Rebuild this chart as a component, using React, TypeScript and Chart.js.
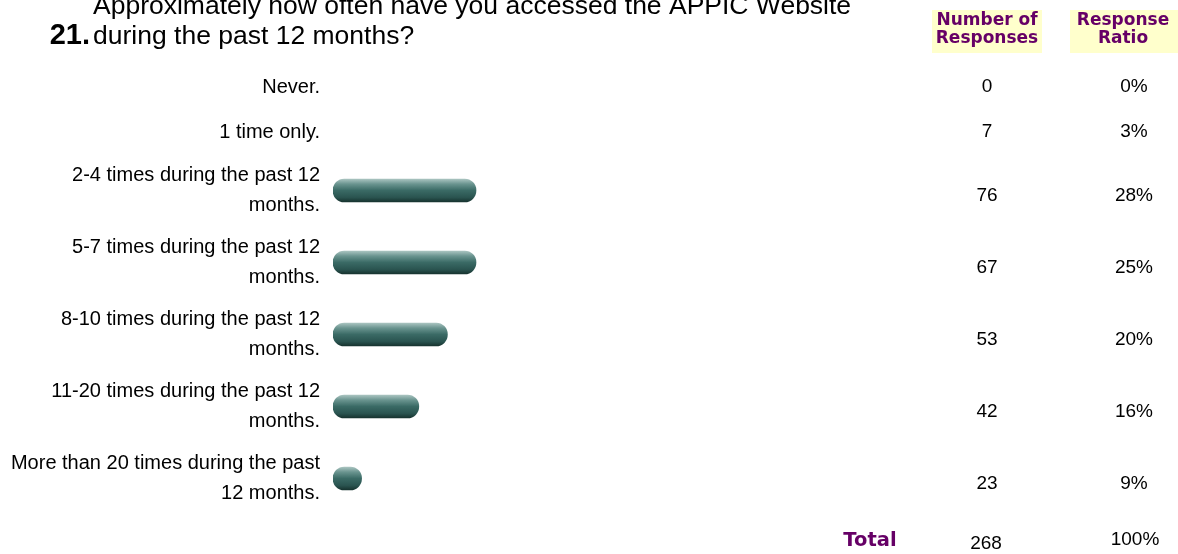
import React, { useEffect, useRef } from "react";
import { Chart, CategoryScale, registerables } from "chart.js";

// ---------- data ----------
const questionNumber = "21.";
const questionLines = [
  "Approximately how often have you accessed the APPIC Website",
  "during the past 12 months?",
];
const categories: string[][] = [
  ["Never."],
  ["1 time only."],
  ["2-4 times during the past 12", "months."],
  ["5-7 times during the past 12", "months."],
  ["8-10 times during the past 12", "months."],
  ["11-20 times during the past 12", "months."],
  ["More than 20 times during the past", "12 months."],
];
const responseCounts = [0, 7, 76, 67, 53, 42, 23];
const responseRatios = ["0%", "3%", "28%", "25%", "20%", "16%", "9%"];
// bar lengths as drawn in the picture (percent of scale)
const barLengths = [0, 0, 25, 25, 20, 15, 5];
const totalLabel = "Total";
const totalCount = 268;
const totalRatio = "100%";
const countHeader = ["Number of", "Responses"];
const ratioHeader = ["Response", "Ratio"];

// ---------- style ----------
const W = 1178;
const H = 554;
const ROW_SINGLE = 45;
const ROW_DOUBLE = 72;
const SANS = "'Liberation Sans', Arial, sans-serif";
const ROUND = "'DejaVu Sans', Verdana, sans-serif";
const PURPLE = "#660066";
const HEADER_BG = "#ffffcc";

class WeightedCategoryScale extends CategoryScale {
  static id = "weightedCategory";
  rowCenters(): number[] {
    const labels = (this as any).getLabels() as any[];
    const weights = labels.map((l) =>
      Array.isArray(l) && l.length > 1 ? ROW_DOUBLE : ROW_SINGLE
    );
    const total = weights.reduce((a, b) => a + b, 0);
    const top = (this as any).top;
    const h = (this as any).bottom - top;
    let acc = 0;
    return weights.map((w) => {
      const c = top + ((acc + w / 2) / total) * h;
      acc += w;
      return c;
    });
  }
  getPixelForValue(value: any, index?: number): number {
    const idx = typeof value === "number" ? value : (this as any).parse(value, index);
    if (idx === null || idx === undefined || isNaN(idx)) return NaN;
    const c = this.rowCenters()[Math.round(idx)];
    return c === undefined ? NaN : c;
  }
  getPixelForTick(index: number): number {
    const ticks = (this as any).ticks;
    if (index < 0 || index > ticks.length - 1) return null as any;
    return this.getPixelForValue(ticks[index].value);
  }
}

Chart.register(...registerables, WeightedCategoryScale as any);

const tablePlugin = {
  id: "tableText",
  afterDraw(chart: any) {
    const ctx = chart.ctx as CanvasRenderingContext2D;
    const y = chart.scales.y;
    ctx.save();

    // title
    ctx.fillStyle = "#000";
    ctx.textAlign = "left";
    ctx.textBaseline = "alphabetic";
    ctx.font = `26.5px ${SANS}`;
    ctx.fillText(questionLines[0], 93, 14);
    ctx.fillText(questionLines[1], 93, 44);
    ctx.font = `bold 29px ${SANS}`;
    ctx.textAlign = "right";
    ctx.fillText(questionNumber, 90, 44);

    // header boxes
    ctx.fillStyle = HEADER_BG;
    ctx.fillRect(932, 10, 110, 43);
    ctx.fillRect(1070, 10, 108, 43);
    ctx.fillStyle = PURPLE;
    ctx.font = `bold 17px ${ROUND}`;
    ctx.textAlign = "center";
    ctx.textBaseline = "middle";
    ctx.fillText(countHeader[0], 987, 21);
    ctx.fillText(countHeader[1], 987, 39);
    ctx.fillText(ratioHeader[0], 1123, 21);
    ctx.fillText(ratioHeader[1], 1123, 39);

    // rows
    ctx.fillStyle = "#000";
    ctx.font = `19px ${SANS}`;
    categories.forEach((cat, i) => {
      const cy = y.getPixelForValue(i) + (cat.length > 1 ? 5 : 0);
      ctx.fillText(String(responseCounts[i]), 987, cy);
      ctx.fillText(responseRatios[i], 1134, cy);
    });

    // total row
    const ty = y.bottom + 26;
    ctx.fillStyle = PURPLE;
    ctx.font = `bold 19.5px ${ROUND}`;
    ctx.fillText(totalLabel, 870, ty);
    ctx.fillStyle = "#000";
    ctx.font = `19px ${SANS}`;
    ctx.fillText(String(totalCount), 986, ty + 3);
    ctx.fillText(totalRatio, 1135, ty - 1);
    ctx.restore();
  },
};

export default function App() {
  const ref = useRef<HTMLCanvasElement | null>(null);
  useEffect(() => {
    if (!ref.current) return;
    const chart = new Chart(ref.current, {
      type: "bar",
      data: {
        labels: categories,
        datasets: [
          {
            data: barLengths,
            barThickness: 23,
            borderRadius: 12,
            borderSkipped: false,
            borderWidth: 0,
            backgroundColor: (c: any) => {
              const ch = c.chart;
              const ys = ch.scales?.y;
              const v = c.raw;
              if (!v) return "rgba(0,0,0,0)";
              if (!ys || c.dataIndex === undefined) return "#2f5f5a";
              const cy = ys.getPixelForValue(c.dataIndex);
              if (!isFinite(cy)) return "#2f5f5a";
              const g = ch.ctx.createLinearGradient(0, cy - 11.5, 0, cy + 11.5);
              g.addColorStop(0, "#a9c4c0");
              g.addColorStop(0.22, "#6a948f");
              g.addColorStop(0.5, "#3a6a65");
              g.addColorStop(0.8, "#2a5450");
              g.addColorStop(1, "#17332f");
              return g;
            },
          } as any,
        ],
      },
      options: {
        indexAxis: "y",
        animation: false,
        responsive: false,
        devicePixelRatio: 1,
        events: [],
        layout: { padding: { top: 64.5, bottom: H - 514.5, left: 0, right: W - 905 } },
        plugins: {
          legend: { display: false },
          tooltip: { enabled: false },
          title: { display: false },
        },
        scales: {
          x: { type: "linear", min: 0, max: 100, display: false },
          y: {
            type: "weightedCategory" as any,
            grid: { display: false, drawTicks: false },
            border: { display: false },
            ticks: {
              autoSkip: false,
              maxRotation: 0,
              padding: 13,
              color: "#000",
              font: { family: SANS, size: 20, lineHeight: 30 / 20 },
            },
            afterFit: (s: any) => {
              s.width = 333;
            },
          } as any,
        },
      },
      plugins: [tablePlugin],
    });
    return () => chart.destroy();
  }, []);
  return (
    <div style={{ position: "fixed", left: 0, top: 0, width: W, height: H, background: "#fff" }}>
      <canvas ref={ref} width={W} height={H} style={{ display: "block" }} />
    </div>
  );
}
